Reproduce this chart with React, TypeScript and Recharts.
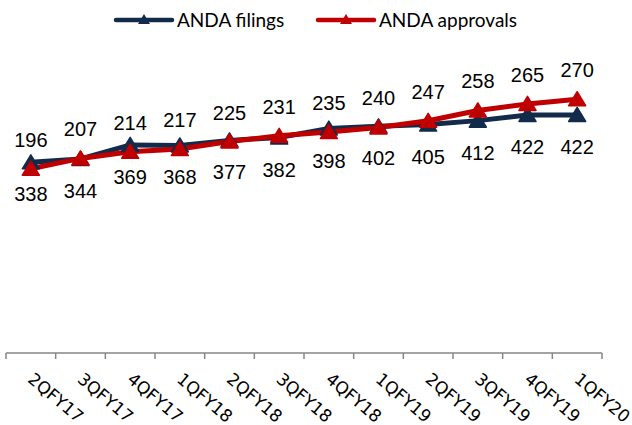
import { ComposedChart, Line, XAxis, YAxis, LabelList } from "recharts";

// Quarterly ANDA filings vs approvals, two hidden value axes.

const quarters = [
  "2QFY17", "3QFY17", "4QFY17", "1QFY18", "2QFY18", "3QFY18",
  "4QFY18", "1QFY19", "2QFY19", "3QFY19", "4QFY19", "1QFY20",
];
const filings = [338, 344, 369, 368, 377, 382, 398, 402, 405, 412, 422, 422];
const approvals = [196, 207, 214, 217, 225, 231, 235, 240, 247, 258, 265, 270];

const NAVY = "#132B4B";
const RED = "#C00000";
const AXIS = "#868686";

const W = 632;
const H = 425;
const M = { top: 71, right: 30, bottom: 0, left: 6 };
const BAND = (W - M.left - M.right) / quarters.length;

const data = quarters.map((q, i) => ({
  quarter: q,
  filings: filings[i],
  approvals: approvals[i],
}));

function Triangle(props: any) {
  const { cx, cy, fill } = props;
  if (cx == null || cy == null) return null;
  return (
    <path
      d={`M${cx},${cy - 7.5} L${cx + 8.5},${cy + 6.5} L${cx - 8.5},${cy + 6.5} Z`}
      fill={fill}
      stroke={fill}
      strokeWidth={1.5}
      strokeLinejoin="round"
    />
  );
}

const makeLabel = (dy: number) => (props: any) => {
  const { x, y, value } = props;
  return (
    <text
      x={x}
      y={y + dy}
      textAnchor="middle"
      fontFamily="'Liberation Sans', Arial, sans-serif"
      fontSize={20}
      fill="#000"
    >
      {value}
    </text>
  );
};

function QuarterTick(props: any) {
  const { x, y, payload, index } = props;
  const tx = x - 4;
  const ty = y + 28;
  return (
    <g>
      <line x1={x - BAND / 2} x2={x - BAND / 2} y1={y} y2={y + 6} stroke={AXIS} strokeWidth={1.5} />
      {index === quarters.length - 1 && (
        <line x1={x + BAND / 2} x2={x + BAND / 2} y1={y} y2={y + 6} stroke={AXIS} strokeWidth={1.5} />
      )}
      <text
        x={tx}
        y={ty}
        transform={`rotate(40 ${tx} ${ty})`}
        textAnchor="start"
        fontFamily="'DejaVu Sans', Verdana, sans-serif"
        fontSize={17}
        fill="#000"
      >
        {payload.value}
      </text>
    </g>
  );
}

function LegendItem({ color, label, x }: { color: string; label: string; x: number }) {
  return (
    <g>
      <line x1={x} x2={x + 56} y1={20} y2={20} stroke={color} strokeWidth={4.5} strokeLinecap="round" />
      <path d={`M${x + 28},${14} L${x + 34},${24} L${x + 22},${24} Z`} fill={color} />
      <text x={x + 61} y={27} fontFamily="Lato, sans-serif" fontSize={19} fill="#000">
        {label}
      </text>
    </g>
  );
}

export default function App() {
  return (
    <div style={{ position: "absolute", left: 0, top: 0, width: W, height: H, background: "#fff" }}>
      <ComposedChart width={W} height={H} data={data} margin={M}>
        <XAxis
          dataKey="quarter"
          scale="band"
          height={72}
          interval={0}
          tickLine={false}
          tickSize={0}
          tickMargin={0}
          axisLine={{ stroke: AXIS, strokeWidth: 1.5 }}
          tick={<QuarterTick />}
        />
        <YAxis yAxisId="f" hide domain={[0, 500]} />
        <YAxis yAxisId="a" hide orientation="right" domain={[0, 300]} />
        <Line
          yAxisId="f"
          dataKey="filings"
          stroke={NAVY}
          strokeWidth={5}
          fill={NAVY}
          dot={<Triangle fill={NAVY} />}
          isAnimationActive={false}
        >
          <LabelList dataKey="filings" content={makeLabel(39)} />
        </Line>
        <Line
          yAxisId="a"
          dataKey="approvals"
          stroke={RED}
          strokeWidth={5}
          fill={RED}
          dot={<Triangle fill={RED} />}
          isAnimationActive={false}
        >
          <LabelList dataKey="approvals" content={makeLabel(-22)} />
        </Line>
      </ComposedChart>
      <svg width={W} height={40} style={{ position: "absolute", left: 0, top: 0 }}>
        <LegendItem color={NAVY} label="ANDA filings" x={116} />
        <LegendItem color={RED} label="ANDA approvals" x={318} />
      </svg>
    </div>
  );
}
